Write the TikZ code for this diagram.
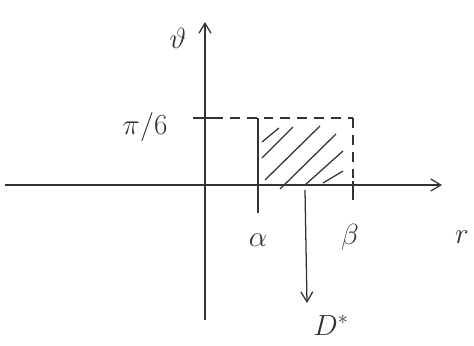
\documentclass[tikz,border=0pt]{standalone}
\usepackage{amsmath}
\usetikzlibrary{arrows.meta}
\begin{document}
\begin{tikzpicture}[line width=0.9pt, black!80, >={Straight Barb[length=2.5mm, width=3mm]}]
	\useasboundingbox (-5.125, -4.025) rectangle (6.725, 4.625);
	\coordinate (xs) at (-5, 0);
	\coordinate (xe) at (5.925, 0);
	\coordinate (ys) at (0, -3.375);
	\coordinate (ye) at (0, 4.075);
	\draw[->] (xs) -- (xe);
	\draw[->] (ys) -- (ye);
	
	\node (theta) at (-0.675, 3.675) {\huge $\vartheta$};
	\node (r) at (6.425, -1.3) {\huge $r$};
	\node (pi6) at (-1.5, 1.45) {\huge $\pi/6$};
	\node (alpha) at (1.325, -1.375) {\huge $\alpha$};
	\node (beta) at (3.625, -1.3) {\huge $\beta$};
	\node (dstar) at (3.15, -3.5) {\huge $D^*$};
	
	\draw (-0.3, 1.675) -- (0.2, 1.675);
	\draw[dash pattern=on 7pt off 5pt] (0.2, 1.675) -- (3.7, 1.675);
	\draw (1.325, 1.675) -- (1.325, -0.7);
	\draw[dash pattern=on 7pt off 5pt] (3.7, 1.675) -- (3.7, 0.1);
	\draw (3.7, 0.1) -- (3.7, -0.375);
	
	\draw (1.425, 1.075) -- (1.85, 1.425);
	\draw (1.425, 0.675) -- (2.2, 1.45);
	\draw (1.5, 0.125) -- (2.875, 1.475);
	\draw (1.875, -0.1) -- (3.275, 1.275);
	\draw (2.5, 0.0) -- (3.45, 0.85);
	\draw (2.95, 0.05) -- (3.45, 0.35);
	
	\coordinate (hatch) at (2.5, -0.125);
	\draw[->] (hatch) -- (2.55, -2.95);
\end{tikzpicture}
\end{document}
